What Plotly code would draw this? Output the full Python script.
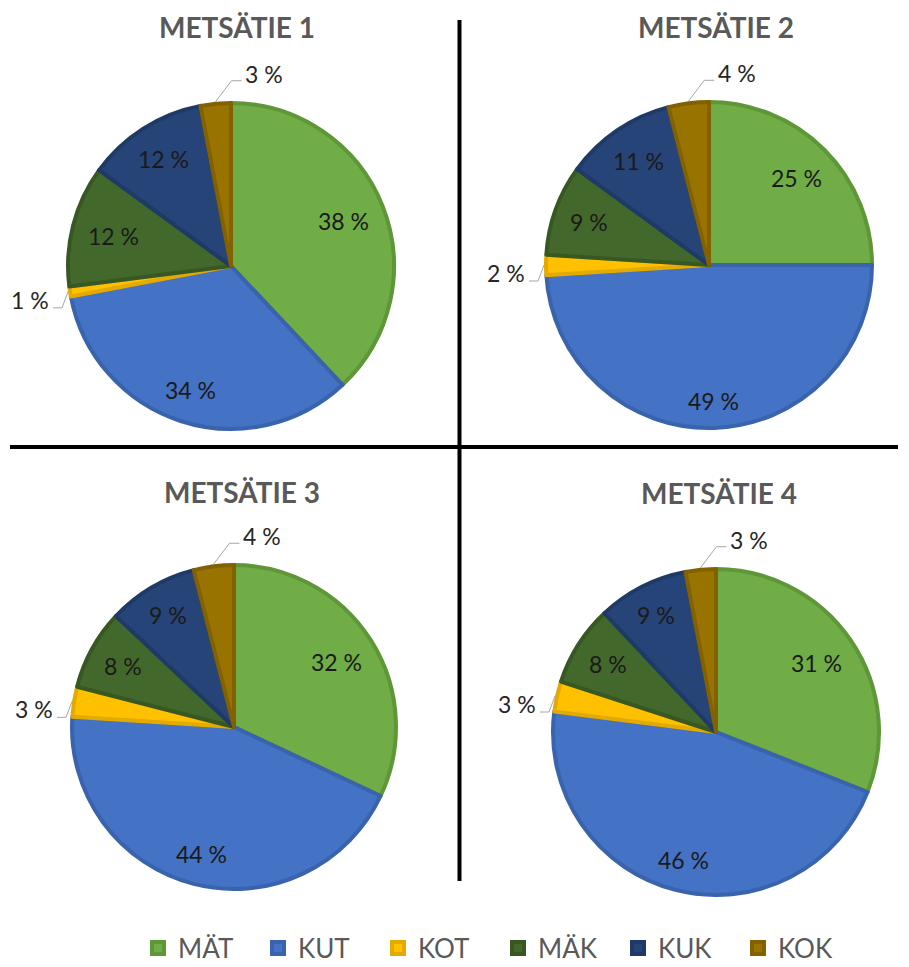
import math
import plotly.graph_objects as go

W, H = 909, 967

# ---- data -------------------------------------------------------------
CATEGORIES = ["MÄT", "KUT", "KOT", "MÄK", "KUK", "KOK"]
ROAD_NAMES = ["METSÄTIE 1", "METSÄTIE 2", "METSÄTIE 3", "METSÄTIE 4"]
ROAD_1 = [38, 34, 1, 12, 12, 3]
ROAD_2 = [25, 49, 2, 9, 11, 4]
ROAD_3 = [32, 44, 3, 8, 9, 4]
ROAD_4 = [31, 46, 3, 8, 9, 3]
ROADS = [ROAD_1, ROAD_2, ROAD_3, ROAD_4]

# ---- style ------------------------------------------------------------
FILL = ["#70AD47", "#4472C4", "#FFC000", "#43682B", "#264478", "#997300"]
EDGE = ["#5E9638", "#3A63AD", "#E3AA00", "#385823", "#1F3A66", "#826100"]
EDGE_W = 4
LABEL_FONT = "Lato"
SMALL_SLICE = 5          # slices below this get an outside label with a leader line

# pie geometry in pixels: centre x, centre y, outer radius
PIE_GEOM = [(231, 266, 165), (709, 265, 165), (234, 727, 164), (716, 732, 165)]
TITLE_POS = [(237, 27), (716, 27), (242, 492), (719, 493)]


def px(x):
    return x / W


def py(y):
    return 1 - y / H


fig = go.Figure()
annotations = []
shapes = []

for idx, (name, values, (cx, cy, r_out)) in enumerate(zip(ROAD_NAMES, ROADS, PIE_GEOM)):
    r = r_out - EDGE_W / 2
    fig.add_trace(go.Pie(
        labels=CATEGORIES,
        values=values,
        sort=False,
        direction="clockwise",
        rotation=0,
        textinfo="none",
        hoverinfo="label+value",
        marker=dict(colors=FILL, line=dict(color=EDGE, width=EDGE_W)),
        domain=dict(x=[px(cx - r), px(cx + r)], y=[py(cy + r), py(cy - r)]),
        showlegend=(idx == 0),
        name=name,
    ))

    # chart title
    tx, ty = TITLE_POS[idx]
    annotations.append(dict(
        x=px(tx), y=py(ty), xref="paper", yref="paper", text=f"<b>{name}</b>",
        showarrow=False, xanchor="center", yanchor="middle",
        font=dict(family=LABEL_FONT, size=28, color="#595959"),
    ))

    # data labels, placed from the cumulative share of each slice
    total = sum(values)
    cum = 0
    for v in values:
        mid = (cum + v / 2) / total * 2 * math.pi
        cum += v
        ux, uy = math.sin(mid), -math.cos(mid)
        text = f"{v} %"
        if v >= SMALL_SLICE:
            hw, hh = 6.4 * len(text), 9
            sx = hw if ux >= 0 else -hw
            sy = hh if uy >= 0 else -hh
            us = ux * sx + uy * sy
            target = 0.9 * r_out
            t = -us + math.sqrt(us * us - (sx * sx + sy * sy) + target * target)
            annotations.append(dict(
                x=px(cx + t * ux), y=py(cy + t * uy), xref="paper", yref="paper",
                text=text, showarrow=False, xanchor="center", yanchor="middle",
                font=dict(family=LABEL_FONT, size=23, color="#1a1a1a"),
            ))
        else:
            ex0, ey0 = cx + r_out * ux, cy + r_out * uy
            if -uy > 0.9:
                # label above, to the right
                ex1, ey1 = ex0 + 16, ey0 - 21
                ex2 = ex1 + 10
                lx, ly, anchor = ex1 + 12, ey1 - 7, "left"
            else:
                # label to the left
                ex1, ey1 = ex0 - 6, ey0 + 16
                ex2 = ex1 - 9
                lx, ly, anchor = ex1 - 11, ey1 - 8, "right"
            for (a, b, c, d) in [(ex0, ey0, ex1, ey1), (ex1, ey1, ex2, ey1)]:
                shapes.append(dict(
                    type="line", xref="paper", yref="paper",
                    x0=px(a), y0=py(b), x1=px(c), y1=py(d),
                    line=dict(color="#A6A6A6", width=1),
                ))
            annotations.append(dict(
                x=px(lx), y=py(ly), xref="paper", yref="paper",
                text=text, showarrow=False, xanchor=anchor, yanchor="middle",
                font=dict(family=LABEL_FONT, size=23, color="#262626"),
            ))

# quadrant dividers
shapes.append(dict(type="line", xref="paper", yref="paper",
                   x0=px(459.5), x1=px(459.5), y0=py(20), y1=py(881),
                   line=dict(color="black", width=4)))
shapes.append(dict(type="line", xref="paper", yref="paper",
                   x0=px(10), x1=px(898), y0=py(447), y1=py(447),
                   line=dict(color="black", width=4)))

fig.update_layout(
    width=W, height=H,
    margin=dict(l=0, r=0, t=0, b=0, autoexpand=False),
    paper_bgcolor="white",
    plot_bgcolor="white",
    annotations=annotations,
    shapes=shapes,
    legend=dict(
        orientation="h",
        x=px(138), xanchor="left",
        y=py(948), yanchor="middle",
        font=dict(family=LABEL_FONT, size=26, color="#595959"),
        itemwidth=30,
        entrywidth=75,
        entrywidthmode="pixels",
        traceorder="normal",
    ),
)

fig.write_html("out.html")
